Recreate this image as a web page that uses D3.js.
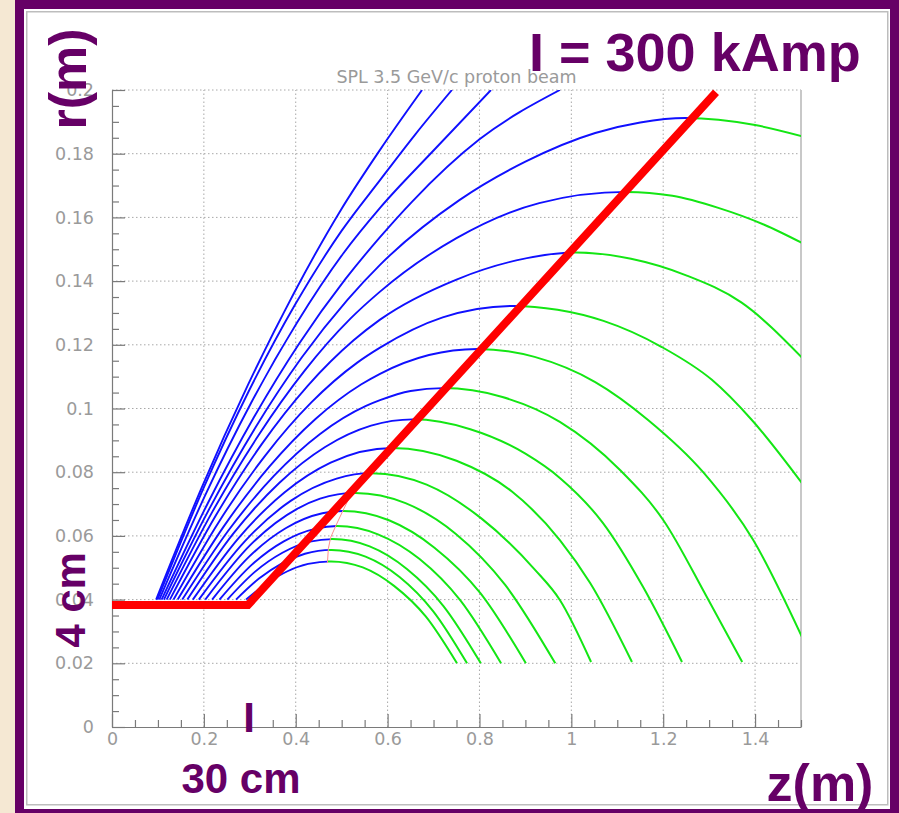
<!DOCTYPE html>
<html>
<head>
<meta charset="utf-8">
<script src="https://cdn.jsdelivr.net/npm/d3@7"></script>
<style>
body{margin:0;background:#fff}
svg{display:block}
</style>
</head>
<body>
<div id="chart"></div>
<script>
// ejes: marcas y etiquetas
const xMayor = [0, 0.2, 0.4, 0.6, 0.8, 1, 1.2, 1.4]
const xMenor = [0.05,0.1,0.15,0.25,0.3,0.35,0.45,0.5,0.55,0.65,0.7,0.75,0.85,0.9,0.95,1.05,1.1,1.15,1.25,1.3,1.35,1.45,1.5]
const yMayor = [0, 0.02, 0.04, 0.06, 0.08, 0.1, 0.12, 0.14, 0.16, 0.18, 0.2]
const yMenor = [0.005,0.01,0.015,0.025,0.03,0.035,0.045,0.05,0.055,0.065,0.07,0.075,0.085,0.09,0.095,
  0.105,0.11,0.115,0.125,0.13,0.135,0.145,0.15,0.155,0.165,0.17,0.175,0.185,0.19,0.195]
const xEtiquetas = ["0","0.2","0.4","0.6","0.8","1","1.2","1.4"]
const yEtiquetas = ["0","0.02","0.04","0.06","0.08","0.1","0.12","0.14","0.16","0.18","0.2"]

// trayectorias [z, r]
const trayT1 = [[0.096,0.04],[0.196,0.0754],[0.296,0.1074],[0.396,0.1362],[0.496,0.1618],[0.5835,0.1812],[0.675,0.2]]
const trayT2 = [[0.099,0.04],[0.199,0.0749],[0.299,0.1058],[0.399,0.1327],[0.499,0.1556],[0.5835,0.1717],[0.66,0.186],[0.74,0.2]]
const trayT3 = [[0.103,0.04],[0.203,0.0728],[0.303,0.1018],[0.403,0.127],[0.503,0.1486],[0.5835,0.163],[0.70,0.181],[0.825,0.2]]
const trayT4 = [[0.108,0.04],[0.208,0.0701],[0.308,0.097],[0.408,0.1205],[0.508,0.1406],[0.5835,0.1538],[0.653,0.1649],[0.80,0.1845],[0.975,0.2]]
const trayE = [[0.113,0.04],[0.213,0.0688],[0.313,0.0942],[0.413,0.116],[0.513,0.1342],[0.5835,0.1451],[0.757,0.1655],[0.90,0.1775],[1.052,0.1865],[1.15,0.1898],[1.248,0.1912],[1.4,0.1890],[1.502,0.1855]]
const trayF = [[0.119,0.04],[0.219,0.0677],[0.319,0.0916],[0.419,0.1118],[0.519,0.1282],[0.5835,0.1367],[0.75,0.1535],[0.93,0.1645],[1.12,0.168],[1.22,0.1668],[1.32,0.1630],[1.42,0.1577],[1.502,0.152]]
const trayG = [[0.126,0.04],[0.226,0.0664],[0.326,0.0888],[0.426,0.1071],[0.526,0.1214],[0.5835,0.1279],[0.75,0.1405],[0.88,0.1465],[1.01,0.149],[1.13,0.1470],[1.25,0.1418],[1.37,0.1333],[1.502,0.116]]
const trayH = [[0.134,0.04],[0.234,0.0647],[0.334,0.0853],[0.434,0.1019],[0.534,0.1144],[0.5835,0.1191],[0.72,0.1286],[0.873,0.1322],[0.97,0.1310],[1.07,0.1275],[1.197,0.1193],[1.306,0.109],[1.393,0.0964],[1.502,0.0766]]
const trayI = [[0.143,0.04],[0.243,0.0629],[0.343,0.0818],[0.443,0.0967],[0.543,0.1076],[0.5835,0.1109],[0.69,0.1168],[0.795,0.1187],[0.92,0.1162],[1.052,0.1083],[1.167,0.0964],[1.287,0.080],[1.396,0.0587],[1.502,0.0283]]
const trayJ = [[0.153,0.04],[0.253,0.0616],[0.353,0.0789],[0.453,0.092],[0.553,0.1008],[0.5835,0.1026],[0.65,0.1055],[0.72,0.1064],[0.85,0.1036],[0.975,0.0958],[1.106,0.0807],[1.2,0.065],[1.295,0.0408],[1.372,0.0204]]
const trayK = [[0.164,0.04],[0.264,0.0607],[0.364,0.0766],[0.464,0.0879],[0.564,0.0946],[0.655,0.0966],[0.78,0.0935],[0.90,0.0858],[0.975,0.0782],[1.069,0.064],[1.156,0.044],[1.241,0.0204]]
const trayL = [[0.176,0.04],[0.276,0.0594],[0.376,0.0737],[0.476,0.083],[0.61,0.0876],[0.75,0.0836],[0.87,0.074],[0.975,0.0587],[1.041,0.0452],[1.132,0.0204]]
const trayM = [[0.189,0.04],[0.289,0.0583],[0.389,0.071],[0.489,0.078],[0.565,0.0797],[0.685,0.0761],[0.804,0.0655],[0.92,0.0495],[0.975,0.0399],[1.043,0.0204]]
const trayN = [[0.203,0.04],[0.303,0.0574],[0.403,0.0685],[0.453,0.0717],[0.53,0.0735],[0.639,0.0703],[0.748,0.0607],[0.856,0.0446],[0.965,0.02]]
const trayO = [[0.218,0.04],[0.298,0.0534],[0.378,0.0624],[0.458,0.0671],[0.503,0.0678],[0.603,0.0649],[0.702,0.0563],[0.802,0.0420],[0.901,0.02]]
const trayP = [[0.234,0.04],[0.304,0.0509],[0.374,0.0583],[0.444,0.0623],[0.49,0.0631],[0.579,0.0605],[0.669,0.0528],[0.758,0.0398],[0.847,0.02]]
const trayQ = [[0.251,0.04],[0.311,0.0487],[0.371,0.0547],[0.431,0.0582],[0.48,0.059],[0.561,0.0567],[0.642,0.0496],[0.722,0.0379],[0.803,0.02]]
const trayR = [[0.27,0.04],[0.32,0.0466],[0.37,0.0514],[0.42,0.0544],[0.478,0.0556],[0.552,0.0535],[0.626,0.0471],[0.699,0.0364],[0.773,0.02]]
const trayS = [[0.292,0.04],[0.337,0.0451],[0.382,0.0489],[0.427,0.0512],[0.477,0.052],[0.546,0.0501],[0.614,0.0443],[0.683,0.0347],[0.751,0.02]]
const trayectorias = [trayT1,trayT2,trayT3,trayT4,trayE,trayF,trayG,trayH,trayI,trayJ,trayK,trayL,trayM,trayN,trayO,trayP,trayQ,trayR,trayS]

// conductor: borde rosa original y linea roja superpuesta
const bordeRosa = [[0.469,0.0515],[0.471,0.056],[0.476,0.0595],[0.488,0.0634],[0.503,0.068],[0.515,0.0715],[0.52,0.0737]]
const lineaRoja = [[0,0.0383],[0.296,0.0383],[1.315,0.1993]]

const ancho = 899
const alto = 813
const margen = {izquierdo:112, derecho:801, superior:90, inferior:727}
const morado = "#660066"
const fuenteEje = "'DejaVu Sans', sans-serif"
const fuenteMorada = "'Liberation Sans', Arial, sans-serif"

const svg = d3.select("#chart").append("svg").attr("width", ancho).attr("height", alto)

// marco de la diapositiva
svg.append("rect").attr("width", ancho).attr("height", alto).attr("fill", "#f5e8d3")
svg.append("rect").attr("x", 15).attr("y", 0).attr("width", 884).attr("height", alto).attr("fill", morado)
svg.append("rect").attr("x", 24).attr("y", 9).attr("width", 866).attr("height", 800).attr("fill", "#fff")
svg.append("rect").attr("x", 26.75).attr("y", 11.75).attr("width", 861).attr("height", 793)
  .attr("fill", "none").attr("stroke", "#bdbdbd").attr("stroke-width", 1.5)

// escalas
const x = d3.scaleLinear().domain([0, 1.5]).range([margen.izquierdo, margen.derecho])
const y = d3.scaleLinear().domain([0, 0.2]).range([margen.inferior, margen.superior])

// rejilla punteada
const rejilla = svg.append("g").attr("id", "rejilla")
  .attr("stroke", "#a8a8a8").attr("stroke-width", 1).attr("stroke-dasharray", "1.5,2.5")
rejilla.selectAll("line.vx").data(xMayor.filter(d => d > 0)).enter().append("line")
  .attr("x1", d => x(d)).attr("x2", d => x(d)).attr("y1", y(0)).attr("y2", y(0.2))
rejilla.selectAll("line.hy").data(yMayor.filter(d => d > 0)).enter().append("line")
  .attr("x1", x(0)).attr("x2", x(1.5)).attr("y1", d => y(d)).attr("y2", d => y(d))
svg.append("line").attr("x1", x(1.5)).attr("x2", x(1.5)).attr("y1", y(0)).attr("y2", y(0.2))
  .attr("stroke", "#c8c8c8").attr("stroke-width", 2)

// recortes
const defs = svg.append("defs")
defs.append("clipPath").attr("id", "recorteArea").append("rect")
  .attr("x", x(0)).attr("y", y(0.2)).attr("width", x(1.5) - x(0)).attr("height", y(0) - y(0.2))
const pendiente = (lineaRoja[2][1] - lineaRoja[1][1]) / (lineaRoja[2][0] - lineaRoja[1][0])
const extremo = [lineaRoja[1][0] + (0.3 - lineaRoja[1][1]) / pendiente, 0.3]
const frontera = [[bordeRosa[0][0], -0.1]].concat(bordeRosa, [extremo])
const aPix = pts => "M" + pts.map(p => x(p[0]) + "," + y(p[1])).join("L") + "Z"
defs.append("clipPath").attr("id", "recorteAzul").append("path")
  .attr("d", aPix([[-0.2, -0.1]].concat(frontera, [[-0.2, 0.3]])))
defs.append("clipPath").attr("id", "recorteVerde").append("path")
  .attr("d", aPix(frontera.concat([[2.2, 0.3], [2.2, -0.1]])))

const linea = d3.line().x(d => x(d[0])).y(d => y(d[1])).curve(d3.curveMonotoneX)

const grupoCurvas = svg.append("g").attr("clip-path", "url(#recorteArea)")
grupoCurvas.append("g").attr("clip-path", "url(#recorteVerde)")
  .selectAll("path").data(trayectorias).enter().append("path")
  .attr("d", linea).attr("fill", "none").attr("stroke", "#14e614").attr("stroke-width", 2)
grupoCurvas.append("g").attr("clip-path", "url(#recorteAzul)")
  .selectAll("path").data(trayectorias).enter().append("path")
  .attr("d", linea).attr("fill", "none").attr("stroke", "#1010ff").attr("stroke-width", 1.9)

// borde rosa del conductor
grupoCurvas.append("path").datum(bordeRosa).attr("d", d3.line().x(d => x(d[0])).y(d => y(d[1])))
  .attr("fill", "none").attr("stroke", "#ff8c8c").attr("stroke-width", 1)

// ejes
const formato = (lista) => (d, i) => lista[i]
const grupoX = svg.append("g").attr("transform", `translate(0, ${margen.inferior})`)
grupoX.call(d3.axisBottom(x).tickValues(xMayor).tickSize(-13).tickSizeOuter(0).tickPadding(6).tickFormat(formato(xEtiquetas)))
const grupoXm = svg.append("g").attr("transform", `translate(0, ${margen.inferior})`)
grupoXm.call(d3.axisBottom(x).tickValues(xMenor).tickSize(-7).tickFormat(""))
grupoXm.select(".domain").remove()
const grupoY = svg.append("g").attr("transform", `translate(${margen.izquierdo}, 0)`)
grupoY.call(d3.axisLeft(y).tickValues(yMayor).tickSize(-13).tickSizeOuter(0).tickPadding(18).tickFormat(formato(yEtiquetas)))
const grupoYm = svg.append("g").attr("transform", `translate(${margen.izquierdo}, 0)`)
grupoYm.call(d3.axisLeft(y).tickValues(yMenor).tickSize(-7).tickFormat(""))
grupoYm.select(".domain").remove()
svg.selectAll(".domain, .tick line").attr("stroke", "#7a7a7a").attr("stroke-width", 1.2)
svg.selectAll(".tick text").attr("fill", "#9a9a9a").style("font-family", fuenteEje).style("font-size", "17.5px")

// titulo
svg.append("text").attr("x", (margen.izquierdo + margen.derecho) / 2).attr("y", 83)
  .attr("text-anchor", "middle").attr("fill", "#9a9a9a")
  .style("font-family", fuenteEje).style("font-size", "17.5px")
  .text("SPL 3.5 GeV/c proton beam")

// linea roja del conductor
svg.append("path").datum(lineaRoja).attr("d", d3.line().x(d => x(d[0])).y(d => y(d[1])))
  .attr("fill", "none").attr("stroke", "#ff0000").attr("stroke-width", 8).attr("stroke-linejoin", "miter")

// anotaciones moradas
const anot = svg.append("g").attr("fill", morado).style("font-family", fuenteMorada).style("font-weight", "bold")
anot.append("text").attr("transform", "translate(86,79) rotate(-90)").attr("text-anchor", "middle")
  .style("font-size", "52px").text("r(m)")
anot.append("text").attr("transform", "translate(85,600) rotate(-90)").attr("text-anchor", "middle")
  .style("font-size", "42px").text("4 cm")
anot.append("text").attr("x", 820).attr("y", 801).attr("text-anchor", "middle")
  .style("font-size", "52px").text("z(m)")
anot.append("text").attr("x", 241).attr("y", 793).attr("text-anchor", "middle")
  .style("font-size", "42px").text("30 cm")
anot.append("text").attr("x", 249).attr("y", 732).attr("text-anchor", "middle")
  .style("font-size", "42px").text("I")
anot.append("text").attr("x", 529).attr("y", 71)
  .style("font-size", "54px").text("I = 300 kAmp")
</script>
</body>
</html>
